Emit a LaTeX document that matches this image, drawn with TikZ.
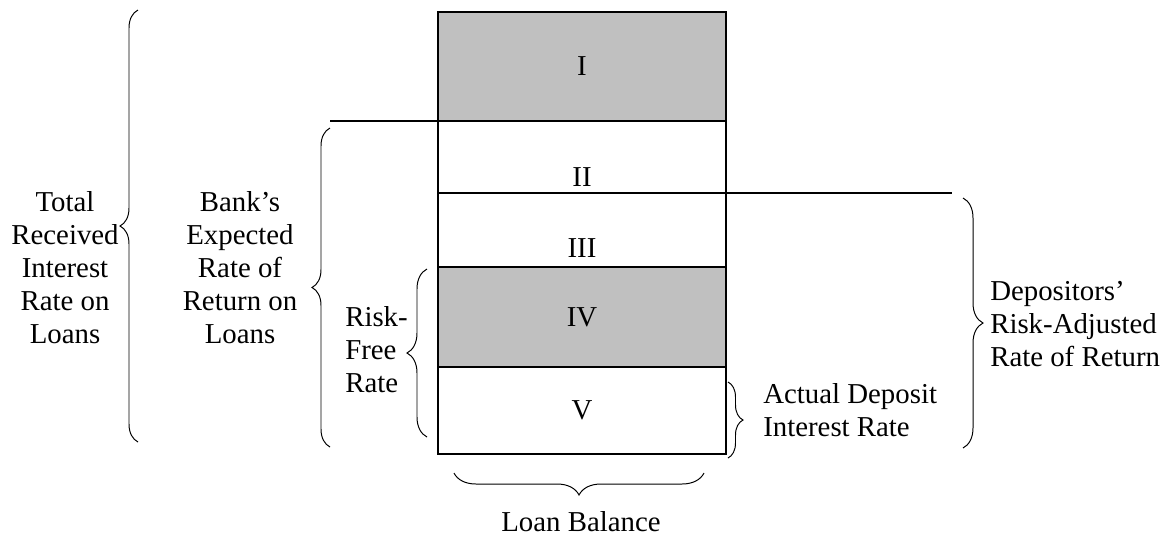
\documentclass[tikz,border=0pt]{standalone}
\usepackage{fontspec}
\setmainfont{Liberation Serif}
\usepackage{tikz}
\usetikzlibrary{decorations.pathreplacing,positioning}
\definecolor{cellgray}{RGB}{192,192,192}
\newcommand{\LabelFont}{\fontsize{20.5}{23.4}\selectfont}
\tikzset{
  cell/.style={draw, line width=0.9pt, minimum width=7.2cm, inner sep=0pt, outer sep=0pt},
  curly/.style={decorate, decoration={brace, amplitude=#1}, line width=0.7pt},
  lbl/.style={inner sep=0pt, font=\LabelFont}
}

\begin{document}
\begin{tikzpicture}[x=0.025cm, y=-0.025cm, font=\LabelFont]
        \useasboundingbox (0,0) rectangle (1173,535);
        % the loan box, top to bottom
        \node[cell, fill=cellgray, minimum height=2.725cm] (rowI) at (582,66.5) {I};
        \node[cell, minimum height=1.8cm, below=0pt of rowI] (rowII) {};
        \node[cell, minimum height=1.85cm, below=0pt of rowII] (rowIII) {};
        \node[cell, fill=cellgray, minimum height=2.5cm, below=0pt of rowIII] (rowIV) {IV};
        \node[cell, minimum height=2.175cm, below=0pt of rowIV] (rowV) {V};
        \node[lbl, anchor=south, above=4.3pt of rowII.south] (labII) {II};
        \node[lbl, anchor=south, above=6.4pt of rowIII.south] (labIII) {III};
        % horizontal lines
        \draw[line width=0.8pt] (rowI.south west) -- +(-108,0) coordinate (lineL);
        \draw[line width=0.8pt] (rowII.south east) -- +(226,0) coordinate (lineR);
        % braces left
        \draw[curly=0.45cm] (138,442) -- (138,10);
        \node[lbl, align=center] (total) at (65,267.5) {Total\\Received\\Interest\\Rate on\\Loans};
        \draw[curly=0.45cm] (330,447) -- (330,128);
        \node[lbl, align=center] (bank) at (240,267.5) {Bank’s\\Expected\\Rate of\\Return on\\Loans};
        \draw[curly=0.5cm] (427,437) -- (427,269);
        \node[lbl, align=left, anchor=west] (riskfree) at (345,350) {Risk-\\Free\\Rate};
        % braces right
        \draw[curly=0.375cm] (728,382) -- (728,458);
        \node[lbl, align=left, anchor=west] (actual) at (763,410) {Actual Deposit\\Interest Rate};
        \draw[curly=0.5cm] (963,198) -- (963,448);
        \node[lbl, align=left, anchor=west] (depos) at (990,324) {Depositors’\\Risk-Adjusted\\Rate of Return};
        % brace below
        \draw[curly=0.55cm] (704,473) -- (454,473);
        \node[lbl, anchor=base] (loan) at (581,531) {Loan Balance};
    \end{tikzpicture}
\end{document}
